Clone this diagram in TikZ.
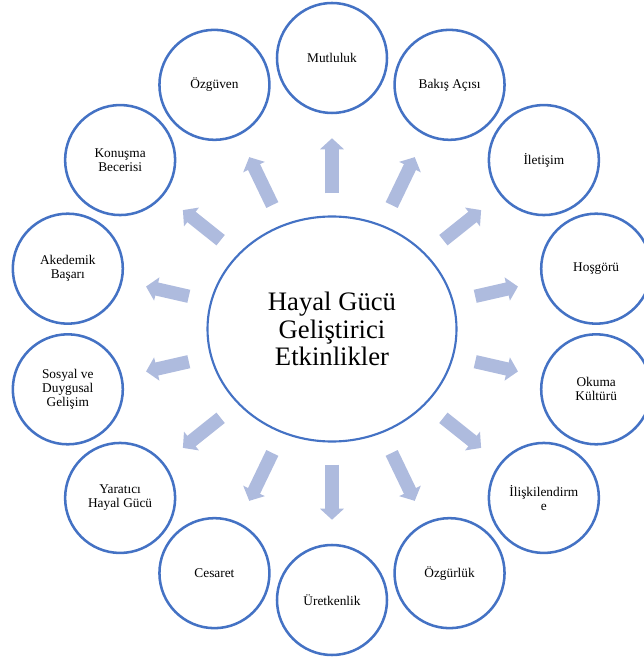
\documentclass[tikz,border=0pt]{standalone}
\usepackage{fontspec}
\setmainfont{Liberation Serif}
\usetikzlibrary{shapes.geometric,arrows.meta}
\definecolor{ringblue}{HTML}{4472C4}
\definecolor{arrowblue}{RGB}{174,187,222}

\begin{document}
\begin{tikzpicture}[x=0.75pt, y=0.75pt,
    topic/.style={circle, draw=ringblue, line width=1.9pt, fill=white, minimum size=82.5pt, inner sep=1pt, align=center, font=\fontsize{10}{10.5}\selectfont},
    hub/.style={ellipse, draw=ringblue, line width=1.6pt, minimum width=186.75pt, minimum height=168.75pt, inner sep=0pt, align=center, font=\fontsize{20}{20.6}\selectfont},
    spoke/.style={arrowblue, line width=10pt, -{Triangle[width=17.5pt, length=8.25pt]}, shorten <=16.5pt, shorten >=18pt}]
    \useasboundingbox (-332,-330) rectangle (311,329);

    % Merkez
    \node[hub] (hayal) at (0,0) {Hayal Gücü\\Geliştirici\\Etkinlikler};

    % Halkadaki konular
    \node[topic] (mutluluk)   at (90:271)     {Mutluluk};
    \node[topic] (ozguven)    at (115.71:271) {Özgüven};
    \node[topic] (konusma)    at (141.43:271) {Konuşma\\Becerisi};
    \node[topic] (akademik)   at (167.14:271) {Akedemik\\Başarı};
    \node[topic] (sosyal)     at (192.86:271) {Sosyal ve\\Duygusal\\Gelişim};
    \node[topic] (yaratici)   at (218.57:271) {Yaratıcı\\Hayal Gücü};
    \node[topic] (cesaret)    at (244.29:271) {Cesaret};
    \node[topic] (uretkenlik) at (270:271)    {Üretkenlik};
    \node[topic] (ozgurluk)   at (295.71:271) {Özgürlük};
    \node[topic] (iliski)     at (321.43:271) {İlişkilendirm\\e};
    \node[topic] (okuma)      at (347.14:271) {Okuma\\Kültürü};
    \node[topic] (hosgoru)    at (12.86:271)  {Hoşgörü};
    \node[topic] (iletisim)   at (38.57:271)  {İletişim};
    \node[topic] (bakis)      at (64.29:271)  {Bakış Açısı};

    % Oklar
    \draw[spoke] (hayal) -- (mutluluk);
    \draw[spoke] (hayal) -- (ozguven);
    \draw[spoke] (hayal) -- (konusma);
    \draw[spoke] (hayal) -- (akademik);
    \draw[spoke] (hayal) -- (sosyal);
    \draw[spoke] (hayal) -- (yaratici);
    \draw[spoke] (hayal) -- (cesaret);
    \draw[spoke] (hayal) -- (uretkenlik);
    \draw[spoke] (hayal) -- (ozgurluk);
    \draw[spoke] (hayal) -- (iliski);
    \draw[spoke] (hayal) -- (okuma);
    \draw[spoke] (hayal) -- (hosgoru);
    \draw[spoke] (hayal) -- (iletisim);
    \draw[spoke] (hayal) -- (bakis);
\end{tikzpicture}
\end{document}
